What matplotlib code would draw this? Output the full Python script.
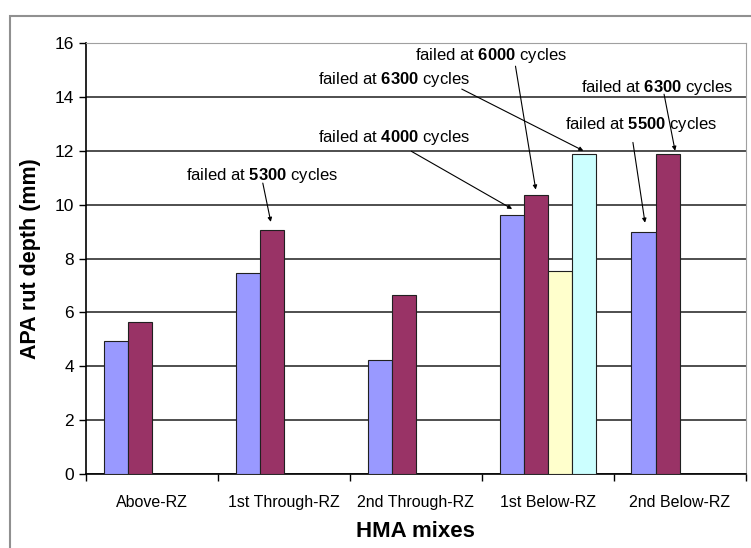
import matplotlib.pyplot as plt
import matplotlib.patches as mpatches
import numpy as np

plt.rcParams['font.family'] = ['Liberation Sans', 'DejaVu Sans']
plt.rcParams['mathtext.fontset'] = 'custom'
plt.rcParams['mathtext.rm'] = 'Liberation Sans'
plt.rcParams['mathtext.bf'] = 'Liberation Sans:bold'

categories = ['Above-RZ', '1st Through-RZ', '2nd Through-RZ', '1st Below-RZ', '2nd Below-RZ']
series_blue = [4.95, 7.48, 4.22, 9.62, 8.98]
series_maroon = [5.64, 9.07, 6.63, 10.34, 11.89]
series_yellow = [np.nan, np.nan, np.nan, 7.52, np.nan]
series_cyan = [np.nan, np.nan, np.nan, 11.89, np.nan]

# failure notes: (category, series, cycles)
fail_cat = [1, 3, 3, 3, 4, 4]
fail_series = [1, 0, 1, 3, 1, 0]
fail_cycles = [5300, 4000, 6000, 6300, 6300, 5500]

# label placement (text centre, line tail, tip offset)
note_xy = [(0.833, 11.1), (1.832, 12.48), (2.573, 15.55), (1.832, 14.64), (3.83, 14.36), (3.707, 12.96)]
tail_xy = [(0.84, 10.8), (1.966, 11.98), (2.755, 15.14), (2.348, 14.29), (3.881, 14.1), (3.645, 12.31)]
tip_off = [(-0.008, 0.29), (0.004, 0.22), (0.0, 0.22), (-0.005, 0.11), (0.056, 0.11), (0.011, 0.35)]

colors = ['#9999FF', '#993366', '#FFFFCC', '#CCFFFF']
all_series = [series_blue, series_maroon, series_yellow, series_cyan]

fig = plt.figure(figsize=(7.51, 5.48), dpi=100)
fig.patches.append(mpatches.Rectangle((10 / 751, -0.05), 1.0, 1 - 16 / 548 + 0.05,
                                      transform=fig.transFigure, fill=False,
                                      edgecolor='#909090', lw=1.5))
ax = fig.add_axes([0.1145, 0.135, 0.8785, 0.7865])

x = np.arange(len(categories))
w = 0.183
offsets = [-1.5 * w, -0.5 * w, 0.5 * w, 1.5 * w]
for s, vals in enumerate(all_series):
    ax.bar(x + offsets[s], vals, width=w, color=colors[s], edgecolor='#202020', lw=0.8, zorder=3)

ax.set_xlim(-0.5, 4.5)
ax.set_ylim(0, 16)
ax.set_yticks(np.arange(0, 17, 2))
ax.yaxis.grid(True, color='#404040', lw=1.3, zorder=0)
ax.set_axisbelow(True)

ax.set_xticks(x)
ax.set_xticklabels(categories, fontsize=11.5)
ax.set_xticks(np.arange(-0.5, 5, 1), minor=True)
ax.tick_params(axis='x', which='major', length=0, pad=15)
ax.tick_params(axis='x', which='minor', length=5, width=1, direction='out')
ax.tick_params(axis='y', labelsize=12.5, length=5, width=1, direction='out')

for side in ['top', 'right']:
    ax.spines[side].set_color('#a0a0a0')
for side in ['left', 'bottom']:
    ax.spines[side].set_color('black')
    ax.spines[side].set_linewidth(1.2)

ax.set_ylabel('APA rut depth (mm)', fontsize=15.5, fontweight='bold', labelpad=10)
ax.set_xlabel('HMA mixes', fontsize=16, fontweight='bold', labelpad=8)

for i in range(len(fail_cycles)):
    c, s = fail_cat[i], fail_series[i]
    bx = x[c] + offsets[s] + tip_off[i][0]
    by = all_series[s][c] + tip_off[i][1]
    ax.text(note_xy[i][0], note_xy[i][1], 'failed at $\\mathbf{%d}$ cycles' % fail_cycles[i],
            ha='center', va='center', fontsize=12, zorder=5)
    ax.annotate('', xy=(bx, by), xytext=tail_xy[i],
                arrowprops=dict(arrowstyle='-|>', lw=0.8, color='black',
                                mutation_scale=6, shrinkA=0, shrinkB=0), zorder=5)

plt.savefig('out.png', dpi=100)
plt.close()
